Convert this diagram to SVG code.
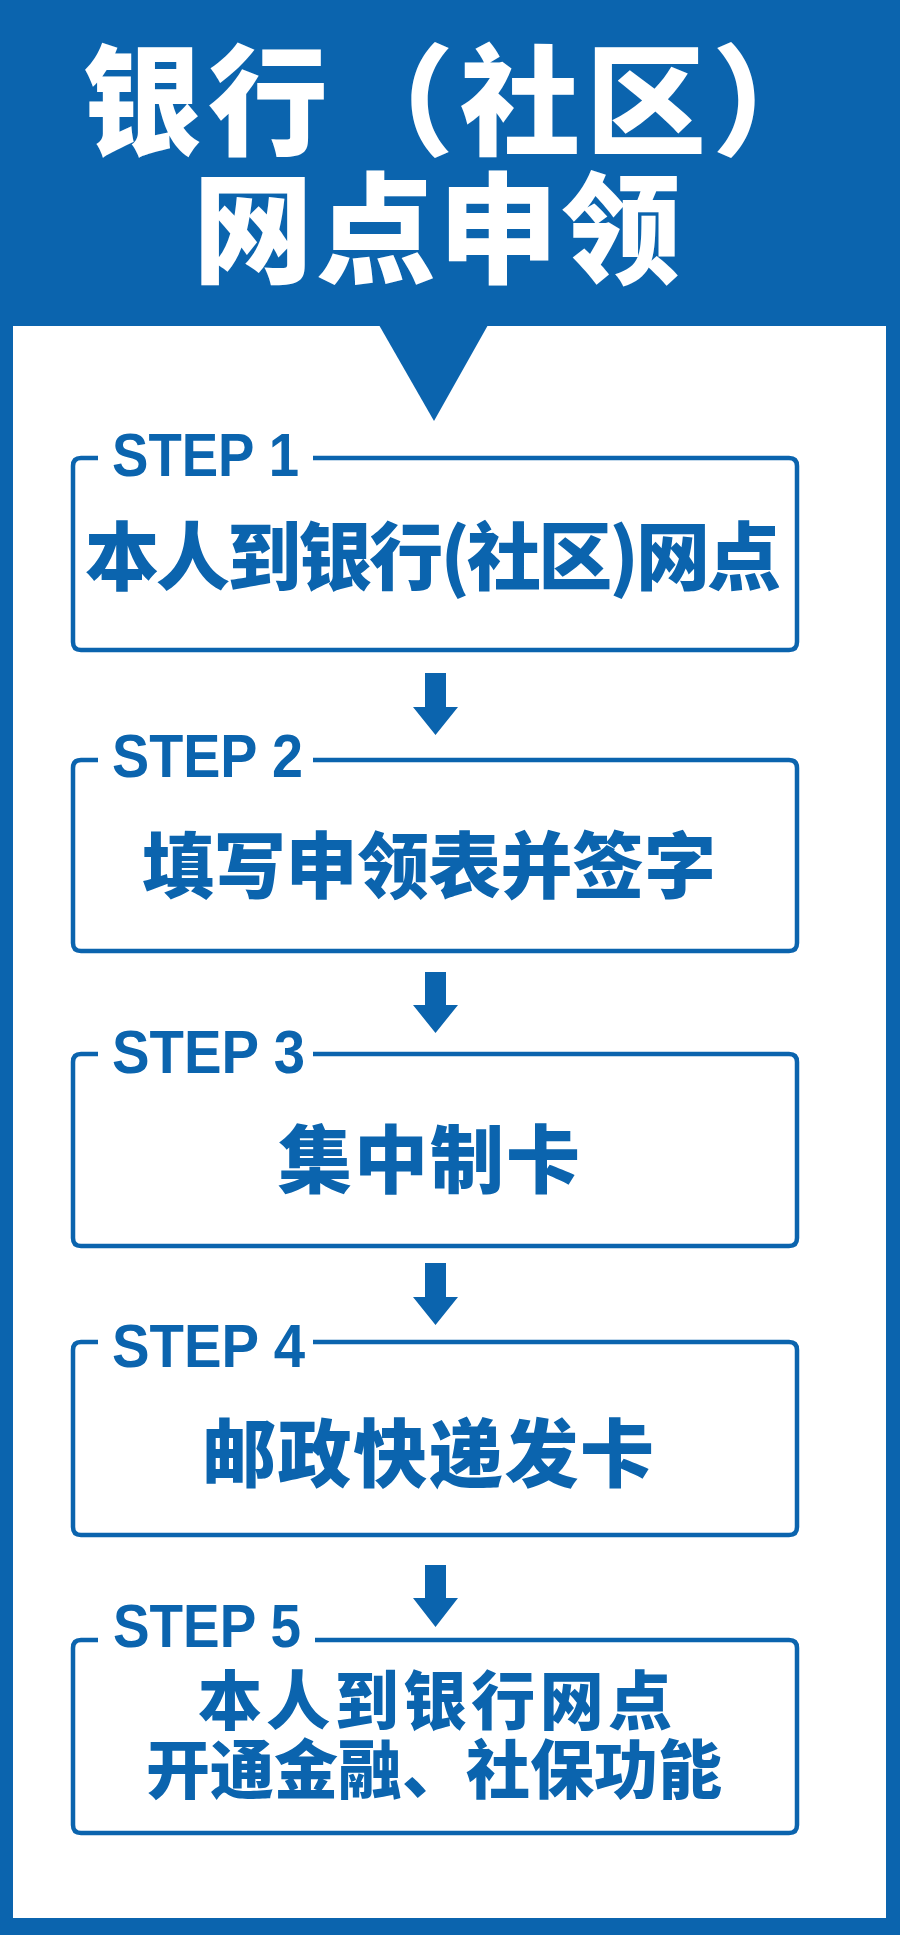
<svg xmlns="http://www.w3.org/2000/svg" width="900" height="1935" viewBox="0 0 900 1935">
<defs>
<style>
.bg{fill:#0b64ae}
.panel{fill:#ffffff}
.box{fill:none;stroke:#0b64ae;stroke-width:4.5;stroke-linejoin:round}
.step{font-family:"Liberation Sans",Arial,sans-serif;font-weight:700;font-size:62px;fill:#0b64ae}
.cn{font-family:"Noto Sans CJK SC","Noto Sans",sans-serif;font-weight:900;fill:#0b64ae}
.title{font-family:"Noto Sans CJK SC","Noto Sans",sans-serif;font-weight:900;fill:#ffffff;font-size:120px}
.arrow{fill:#0b64ae}
</style>
</defs>
<g id="background">
<rect class="bg" x="0" y="0" width="900" height="1935"/>
<rect class="panel" x="13" y="326" width="873" height="1592"/>
<polygon class="bg" points="379,325 488,325 434,421"/>
</g>
<g id="title">
<text class="title" x="82" y="146" textLength="750" lengthAdjust="spacing">银行（社区）</text>
<text class="title" x="193" y="274" textLength="488" lengthAdjust="spacing">网点申领</text>
</g>
<g id="connectors">
<polygon class="arrow" points="425,673 446,673 446,707 458,707 435.5,735 413,707 425,707"/>
<polygon class="arrow" points="425,972 446,972 446,1005 458,1005 435.5,1033 413,1005 425,1005"/>
<polygon class="arrow" points="425,1263 446,1263 446,1297 458,1297 435.5,1325 413,1297 425,1297"/>
<polygon class="arrow" points="425,1565 446,1565 446,1598 458,1598 435.5,1627 413,1598 425,1598"/>
</g>
<g id="step1">
<path class="box" d="M313,458 H789 Q797,458 797,466 V642 Q797,650 789,650 H81 Q73,650 73,642 V466 Q73,458 81,458 H98"/>
<text class="step" x="112" y="476" textLength="187" lengthAdjust="spacingAndGlyphs">STEP 1</text>
<text class="cn" x="433" y="584" font-size="74" text-anchor="middle" textLength="696" lengthAdjust="spacing">本人到银行(社区)网点</text>
</g>
<g id="step2">
<path class="box" d="M313,760 H789 Q797,760 797,768 V943 Q797,951 789,951 H81 Q73,951 73,943 V768 Q73,760 81,760 H98"/>
<text class="step" x="112" y="777" textLength="191" lengthAdjust="spacingAndGlyphs">STEP 2</text>
<text class="cn" x="429" y="892" font-size="72" text-anchor="middle" textLength="574" lengthAdjust="spacing">填写申领表并签字</text>
</g>
<g id="step3">
<path class="box" d="M313,1054 H789 Q797,1054 797,1062 V1238 Q797,1246 789,1246 H81 Q73,1246 73,1238 V1062 Q73,1054 81,1054 H98"/>
<text class="step" x="112" y="1073" textLength="193" lengthAdjust="spacingAndGlyphs">STEP 3</text>
<text class="cn" x="429" y="1187" font-size="74" text-anchor="middle" textLength="302" lengthAdjust="spacing">集中制卡</text>
</g>
<g id="step4">
<path class="box" d="M313,1342 H789 Q797,1342 797,1350 V1527 Q797,1535 789,1535 H81 Q73,1535 73,1527 V1350 Q73,1342 81,1342 H98"/>
<text class="step" x="112" y="1367" textLength="193" lengthAdjust="spacingAndGlyphs">STEP 4</text>
<text class="cn" x="428" y="1481" font-size="74" text-anchor="middle" textLength="452" lengthAdjust="spacing">邮政快递发卡</text>
</g>
<g id="step5">
<path class="box" d="M315,1640 H789 Q797,1640 797,1648 V1825 Q797,1833 789,1833 H81 Q73,1833 73,1825 V1648 Q73,1640 81,1640 H98"/>
<text class="step" x="113" y="1647" textLength="188" lengthAdjust="spacingAndGlyphs">STEP 5</text>
<text class="cn" x="435" y="1724" font-size="64" text-anchor="middle" textLength="474" lengthAdjust="spacing">本人到银行网点</text>
<text class="cn" x="434" y="1793" font-size="64" text-anchor="middle" textLength="576" lengthAdjust="spacing">开通金融、社保功能</text>
</g>
</svg>
